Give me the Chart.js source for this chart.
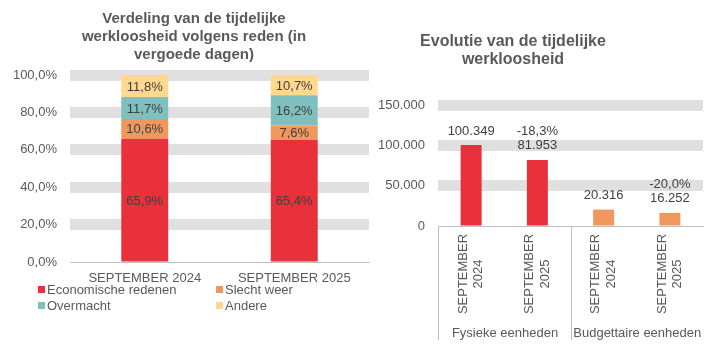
<!DOCTYPE html>
<html><head><meta charset="utf-8">
<script src="https://cdn.jsdelivr.net/npm/chart.js@4/dist/chart.umd.min.js"></script>
<style>
body{margin:0;background:#fff;width:727px;height:357px;overflow:hidden;position:relative;font-family:"Liberation Sans",Arial,sans-serif;}
.title{position:absolute;text-align:center;font-weight:bold;font-size:15px;line-height:18px;color:#595959;}
canvas{position:absolute;top:0}
.leg{position:absolute;font-size:13px;color:#595959;line-height:16px;white-space:nowrap}
.leg i{display:inline-block;width:7px;height:7px;margin-right:2px;vertical-align:middle;position:relative;top:-1px}
</style></head>
<body>
<canvas id="c1" width="380" height="357" style="left:0"></canvas>
<canvas id="c2" width="357" height="357" style="left:370px"></canvas>
<div class="title" style="left:64px;width:260px;top:9px">Verdeling van de tijdelijke<br>werkloosheid volgens reden (in<br>vergoede dagen)</div>
<div class="title" style="left:393px;width:240px;top:32px;font-size:16px;line-height:17.5px">Evolutie van de tijdelijke<br>werkloosheid</div>
<div id="legend"></div>
<script>
// ---- data ----
const leftCategories = ['SEPTEMBER 2024', 'SEPTEMBER 2025'];
const seriesNames = ['Economische redenen', 'Slecht weer', 'Overmacht', 'Andere'];
const economischeRedenen = [65.9, 65.4];
const slechtWeer = [10.6, 7.6];
const overmacht = [11.7, 16.2];
const andere = [11.8, 10.7];
const leftTicks = [0, 20, 40, 60, 80, 100];

const rightCategories = [['SEPTEMBER', '2024'], ['SEPTEMBER', '2025'], ['SEPTEMBER', '2024'], ['SEPTEMBER', '2025']];
const rightGroups = ['Fysieke eenheden', 'Budgettaire eenheden'];
const rightValues = [100349, 81953, 20316, 16252];
const rightChanges = ['', '-18,3%', '', '-20,0%'];
const rightTicks = [0, 50000, 100000, 150000];

// ---- styles ----
const RED = '#e8313a', ORANGE = '#f0975e', TEAL = '#7fbfbf', YELLOW = '#fed88f';
const seriesColors = [RED, ORANGE, TEAL, YELLOW];
const rightColors = [RED, RED, ORANGE, ORANGE];
const GRID = '#e0e0e0', AXIS = '#bfbfbf', TXT = '#595959', LBL = '#404040';
const FONT = '"Liberation Sans", Arial, sans-serif';

Chart.defaults.font.family = FONT;
Chart.defaults.font.size = 13;
Chart.defaults.color = TXT;

function pct(v) { return v.toFixed(1).replace('.', ',') + '%'; }
function thousands(v) { return String(Math.round(v)).replace(/\B(?=(\d{3})+(?!\d))/g, '.'); }

// legend (HTML, 2 columns)
const legPos = [[38, 282], [216, 282], [38, 298], [216, 298]];
const legEl = document.getElementById('legend');
seriesNames.forEach((n, i) => {
  const d = document.createElement('div');
  d.className = 'leg';
  d.style.left = legPos[i][0] + 'px';
  d.style.top = legPos[i][1] + 'px';
  d.innerHTML = '<i style="background:' + seriesColors[i] + '"></i>' + n;
  legEl.appendChild(d);
});

const gridOpts = {
  color: ctx => (ctx.tick && ctx.tick.value === 0) ? 'rgba(0,0,0,0)' : GRID,
  lineWidth: ctx => (ctx.tick && ctx.tick.value === 0) ? 1 : 11,
  drawTicks: false
};

// ---- left chart ----
const innerLabels = {
  id: 'innerLabels',
  afterDatasetsDraw(chart) {
    const ctx = chart.ctx;
    ctx.save();
    ctx.font = '13px ' + FONT;
    ctx.fillStyle = LBL;
    ctx.textAlign = 'center';
    ctx.textBaseline = 'middle';
    chart.data.datasets.forEach((ds, di) => {
      chart.getDatasetMeta(di).data.forEach((el, i) => {
        ctx.fillText(pct(ds.data[i]), el.x, (el.y + el.base) / 2 + 1);
      });
    });
    ctx.restore();
  }
};

const leftData = [economischeRedenen, slechtWeer, overmacht, andere];
new Chart(document.getElementById('c1'), {
  type: 'bar',
  data: {
    labels: leftCategories,
    datasets: leftData.map((d, i) => ({
      label: seriesNames[i], data: d, backgroundColor: seriesColors[i],
      categoryPercentage: 1, barPercentage: 0.314
    }))
  },
  options: {
    responsive: false, animation: false, devicePixelRatio: 1,
    layout: { padding: { left: 0, right: 11, top: 75, bottom: 0 } },
    plugins: { legend: { display: false }, tooltip: { enabled: false } },
    scales: {
      x: {
        stacked: true,
        grid: { display: false },
        border: { display: true, color: AXIS, width: 1 },
        ticks: { padding: 1, color: TXT, maxRotation: 0, font: { size: 13 } },
        afterFit: s => { s.height = 95; }
      },
      y: {
        stacked: true, min: 0, max: 100,
        afterBuildTicks: s => { s.ticks = leftTicks.map(v => ({ value: v })); },
        grid: gridOpts,
        border: { display: false },
        ticks: { padding: 13, color: TXT, callback: v => pct(v) },
        afterFit: s => { s.width = 70; }
      }
    }
  },
  plugins: [innerLabels]
});

// ---- right chart ----
const rightDecor = {
  id: 'rightDecor',
  afterDatasetsDraw(chart) {
    const ctx = chart.ctx;
    const x = chart.scales.x;
    const a = chart.chartArea;
    ctx.save();
    // value labels above bars
    ctx.font = '13px ' + FONT;
    ctx.fillStyle = LBL;
    ctx.textAlign = 'center';
    ctx.textBaseline = 'middle';
    chart.getDatasetMeta(0).data.forEach((el, i) => {
      const base = el.y - 14;
      ctx.fillText(thousands(rightValues[i]), el.x, base);
      if (rightChanges[i]) ctx.fillText(rightChanges[i], el.x, base - 14.5);
    });
    // rotated category labels
    ctx.fillStyle = TXT;
    rightCategories.forEach((lines, i) => {
      const cx = x.getPixelForValue(i);
      ctx.save();
      ctx.translate(cx, 274);
      ctx.rotate(-Math.PI / 2);
      const n = lines.length;
      lines.forEach((t, j) => {
        ctx.fillText(t, 0, (j - (n - 1) / 2) * 15.5);
      });
      ctx.restore();
    });
    // dividers
    ctx.strokeStyle = AXIS;
    ctx.lineWidth = 1;
    const mid = Math.round((x.getPixelForValue(1) + x.getPixelForValue(2)) / 2) + 0.5;
    const left = Math.round(a.left) + 0.5;
    ctx.beginPath();
    ctx.moveTo(left, a.bottom); ctx.lineTo(left, 340);
    ctx.moveTo(mid, a.bottom); ctx.lineTo(mid, 340);
    ctx.stroke();
    // group labels
    ctx.fillStyle = TXT;
    const groupCenters = [(left + mid) / 2, (mid + a.right) / 2];
    rightGroups.forEach((g, i) => ctx.fillText(g, groupCenters[i], 333));
    ctx.restore();
  }
};

new Chart(document.getElementById('c2'), {
  type: 'bar',
  data: {
    labels: rightCategories.map(l => l.join(' ')),
    datasets: [{
      data: rightValues, backgroundColor: rightColors,
      categoryPercentage: 1, barPercentage: 0.317
    }]
  },
  options: {
    responsive: false, animation: false, devicePixelRatio: 1,
    layout: { padding: { left: 0, right: 24, top: 105, bottom: 0 } },
    plugins: { legend: { display: false }, tooltip: { enabled: false } },
    scales: {
      x: {
        grid: { display: false },
        border: { display: true, color: AXIS, width: 1 },
        ticks: { display: false },
        afterFit: s => { s.height = 131; }
      },
      y: {
        min: 0, max: 150000,
        afterBuildTicks: s => { s.ticks = rightTicks.map(v => ({ value: v })); },
        grid: gridOpts,
        border: { display: false },
        ticks: { padding: 13, color: TXT, callback: v => thousands(v) },
        afterFit: s => { s.width = 68; }
      }
    }
  },
  plugins: [rightDecor]
});
</script>
</body></html>
